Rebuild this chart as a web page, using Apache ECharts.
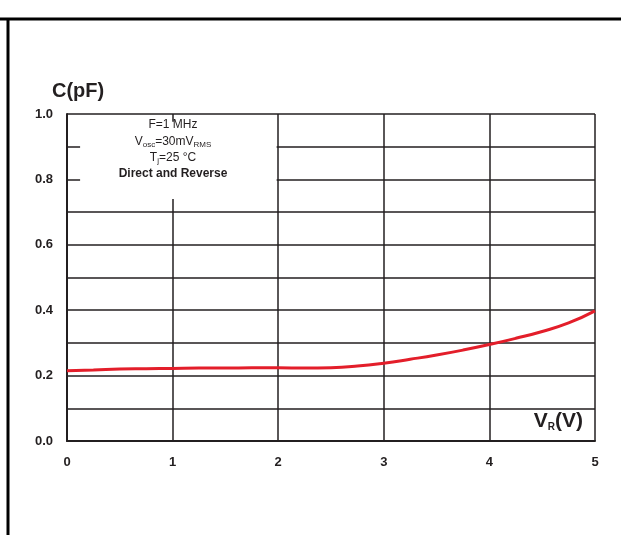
<!DOCTYPE html>
<html>
<head>
<meta charset="utf-8">
<script src="https://cdn.jsdelivr.net/npm/echarts@6/dist/echarts.min.js"></script>
<style>
html,body{margin:0;padding:0;background:#fff;}
#c{width:621px;height:535px;}
</style>
</head>
<body>
<div id="c"></div>
<script>
// Data
var vr = [0, 0.25, 0.5, 0.75, 1.0, 1.25, 1.5, 1.75, 2.0, 2.25, 2.5, 2.75, 3.0, 3.25, 3.5, 3.75, 4.0, 4.25, 4.5, 4.75, 5.0];
var cap = [0.215, 0.217, 0.220, 0.221, 0.222, 0.223, 0.223, 0.224, 0.224, 0.223, 0.224, 0.229, 0.238, 0.250, 0.263, 0.278, 0.295, 0.314, 0.335, 0.361, 0.398];
var xTicks = [0, 1, 2, 3, 4, 5];
var yTicks = [0.0, 0.2, 0.4, 0.6, 0.8, 1.0];
var legendLines = ['F=1 MHz', 'V{sub|osc}=30mV{sub|RMS}', 'T{sub|j}=25 °C', '{b|Direct and Reverse}'];

var FONT = '"Liberation Sans", Arial, sans-serif';
var chart = echarts.init(document.getElementById('c'));
var pts = vr.map(function (x, i) { return [x, cap[i]]; });

var lineColor = '#231f20';
var option = {
  backgroundColor: '#fff',
  animation: false,
  grid: { left: 67, top: 114, width: 528, height: 327, containLabel: false },
  xAxis: {
    type: 'value', min: 0, max: 5, interval: 1,
    axisLine: { show: true, lineStyle: { color: lineColor, width: 2 } },
    axisTick: { show: false },
    splitLine: { show: true, lineStyle: { color: lineColor, width: 1.5 } },
    axisLabel: {
      margin: 15, color: '#231f20', fontFamily: FONT, fontWeight: 'bold', fontSize: 13,
      formatter: function (v) { return xTicks.indexOf(v) >= 0 ? String(v) : ''; }
    }
  },
  yAxis: {
    type: 'value', min: 0, max: 1, interval: 0.2,
    axisLine: { show: true, lineStyle: { color: lineColor, width: 2 } },
    axisTick: { show: false },
    splitLine: { show: true, lineStyle: { color: lineColor, width: 1.5 } },
    minorTick: { show: false, splitNumber: 2 },
    minorSplitLine: { show: true, lineStyle: { color: lineColor, width: 1.5 } },
    axisLabel: {
      margin: 14, color: '#231f20', fontFamily: FONT, fontWeight: 'bold', fontSize: 13,
      formatter: function (v) { return v.toFixed(1); }
    }
  },
  series: [{
    type: 'line',
    data: pts,
    smooth: 0.5,
    showSymbol: false,
    lineStyle: { color: '#e31e2a', width: 3 },
    z: 5,
    markArea: {
      silent: true,
      itemStyle: { color: '#fff', opacity: 1 },
      data: [[{ coord: [0.124, 0.976] }, { coord: [1.985, 0.74] }]]
    }
  }],
  graphic: [
    { type: 'line', shape: { x1: 0, y1: 19, x2: 621, y2: 19 }, style: { stroke: '#000', lineWidth: 3 }, z: 10 },
    { type: 'line', shape: { x1: 8, y1: 19, x2: 8, y2: 535 }, style: { stroke: '#000', lineWidth: 3 }, z: 10 },
    { type: 'text', left: 52, top: 81, z: 10,
      style: { text: 'C(pF)', fontFamily: FONT, fontWeight: 'bold', fontSize: 20, fill: '#231f20' } },
    { type: 'text', right: 38, top: 411, z: 10,
      style: { text: 'V{s|R}(V)', fontFamily: FONT, fontWeight: 'bold', fontSize: 21, fill: '#231f20',
        rich: { s: { fontSize: 10, fontWeight: 'bold', fontFamily: FONT, lineHeight: 10, verticalAlign: 'bottom', fill: '#231f20' } } } }
  ]
};

var legendY = [125, 142, 158, 174];
legendLines.forEach(function (t, i) {
  option.graphic.push({
    type: 'text', x: 173, y: legendY[i], z: 10,
    style: {
      text: t, fontFamily: FONT, fontSize: 12, fill: '#231f20', align: 'center', verticalAlign: 'middle',
      lineHeight: 14,
      rich: {
        sub: { fontSize: 8, lineHeight: 8, verticalAlign: 'bottom', fontFamily: FONT, fill: '#231f20' },
        b: { fontSize: 12, fontWeight: 'bold', fontFamily: FONT, fill: '#231f20', lineHeight: 14 }
      }
    }
  });
});

chart.setOption(option);
</script>
</body>
</html>
